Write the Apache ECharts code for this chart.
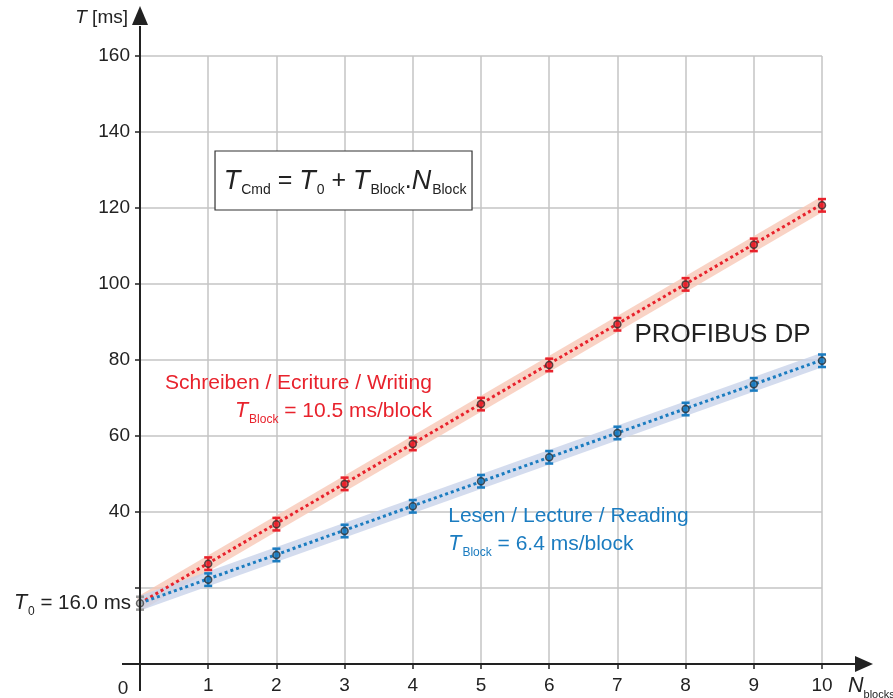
<!DOCTYPE html>
<html>
<head>
<meta charset="utf-8">
<script src="https://cdn.jsdelivr.net/npm/echarts@6/dist/echarts.min.js"></script>
<style>
  html, body { margin: 0; padding: 0; background: #fff; }
  #chart { width: 893px; height: 698px; }
</style>
</head>
<body>
<div id="chart"></div>
<script>
// measured points (N blocks -> T ms)
const blocks = [1, 2, 3, 4, 5, 6, 7, 8, 9, 10];
const writeT = [26.4, 36.8, 47.4, 57.9, 68.4, 78.7, 89.4, 99.9, 110.3, 120.7];
const readT = [22.2, 28.7, 35.0, 41.5, 48.1, 54.4, 60.8, 67.1, 73.6, 79.8];
const errT = 1.65;
const t0 = 16.0;
// fitted lines
const writeFit = [[0, 16], [10, 121]];
const readFit = [[0, 16], [10, 80]];
const yTicks = [40, 60, 80, 100, 120, 140, 160];

const RED = "#e8222c";
const BLUE = "#1b7cc0";
const FONT = "Liberation Sans, Arial, sans-serif";

const chart = echarts.init(document.getElementById("chart"));

function errorBars(color) {
  return function (params, api) {
    const x = api.value(0), y = api.value(1), e = api.value(2);
    const lo = api.coord([x, y - e]);
    const hi = api.coord([x, y + e]);
    const w = 4;
    const st = { stroke: color, lineWidth: 2.5 };
    return {
      type: "group",
      children: [
        { type: "line", shape: { x1: lo[0], y1: lo[1], x2: hi[0], y2: hi[1] }, style: st },
        { type: "line", shape: { x1: lo[0] - w, y1: lo[1], x2: lo[0] + w, y2: lo[1] }, style: st },
        { type: "line", shape: { x1: hi[0] - w, y1: hi[1], x2: hi[0] + w, y2: hi[1] }, style: st }
      ]
    };
  };
}

const writePts = blocks.map((n, i) => [n, writeT[i]]);
const readPts = blocks.map((n, i) => [n, readT[i]]);

const option = {
  animation: false,
  textStyle: { fontFamily: FONT },
  grid: { left: 140, right: 71, top: 56, bottom: 34, containLabel: false },
  xAxis: {
    type: "value",
    min: 0,
    max: 10,
    interval: 1,
    axisLine: { show: false },
    axisTick: { show: true, length: 5, lineStyle: { color: "#222", width: 1.5 } },
    axisLabel: {
      color: "#222",
      fontSize: 19,
      margin: 12,
      formatter: v => (v === 0 ? "" : String(v))
    },
    splitLine: { show: true, lineStyle: { color: "#c4c4c4", width: 1.5 } }
  },
  yAxis: {
    type: "value",
    min: 0,
    max: 160,
    interval: 20,
    axisLine: { show: false },
    axisTick: { show: true, length: 5, lineStyle: { color: "#222", width: 1.5 } },
    axisLabel: {
      color: "#222",
      fontSize: 19,
      margin: 10,
      formatter: v => (yTicks.indexOf(v) >= 0 ? String(v) : "")
    },
    splitLine: { show: true, lineStyle: { color: "#c4c4c4", width: 1.5 } }
  },
  series: [
    {
      type: "line", data: writeFit, symbol: "none", z: 2,
      lineStyle: { color: "#f8c8b6", width: 14, opacity: 0.8 }
    },
    {
      type: "line", data: readFit, symbol: "none", z: 2,
      lineStyle: { color: "#c9d3ea", width: 14, opacity: 0.8 }
    },
    {
      type: "line", data: writeFit, symbol: "none", z: 3,
      lineStyle: { color: RED, width: 3, type: [3, 3] }
    },
    {
      type: "line", data: readFit, symbol: "none", z: 3,
      lineStyle: { color: BLUE, width: 3, type: [3, 3] }
    },
    {
      type: "custom", renderItem: errorBars(RED), z: 4,
      data: writePts.map(p => [p[0], p[1], errT])
    },
    {
      type: "custom", renderItem: errorBars(BLUE), z: 4,
      data: readPts.map(p => [p[0], p[1], errT])
    },
    {
      type: "custom", renderItem: errorBars("#9a9a9a"), z: 4,
      data: [[0, t0, 1.7]]
    },
    {
      type: "scatter", data: writePts, symbolSize: 7, z: 5,
      itemStyle: { color: RED, borderColor: "#333", borderWidth: 1.5 }
    },
    {
      type: "scatter", data: readPts, symbolSize: 7, z: 5,
      itemStyle: { color: BLUE, borderColor: "#333", borderWidth: 1.5 }
    },
    {
      type: "scatter", data: [[0, t0]], symbolSize: 7, z: 5,
      itemStyle: { color: "#bbb", borderColor: "#444", borderWidth: 1.5 }
    }
  ]
};
chart.setOption(option);

// axis lines, arrows and annotations placed from axis coordinates
const px = (x, y) => chart.convertToPixel({ gridIndex: 0 }, [x, y]);
const org = px(0, 0);
const yTop = px(0, 160);
const xEnd = px(10, 0);
const p16 = px(0, t0);
const axisStyle = { stroke: "#222", lineWidth: 2 };

const sub = { fontSize: 12, verticalAlign: "bottom", lineHeight: 28, padding: [0, 0, 0, 1] };
const ital = { fontStyle: "italic", fontSize: 21.5, lineHeight: 28 };
const norm = { fontSize: 21, lineHeight: 28 };

chart.setOption({
  graphic: [
    { type: "line", shape: { x1: org[0], y1: org[1] + 27, x2: org[0], y2: yTop[1] - 30 }, style: axisStyle, z: 10 },
    { type: "polygon", shape: { points: [[org[0], yTop[1] - 50], [org[0] - 8, yTop[1] - 31], [org[0] + 8, yTop[1] - 31]] }, style: { fill: "#222" }, z: 10 },
    { type: "line", shape: { x1: org[0] - 18, y1: org[1], x2: xEnd[0] + 34, y2: org[1] }, style: axisStyle, z: 10 },
    { type: "polygon", shape: { points: [[xEnd[0] + 51, org[1]], [xEnd[0] + 33, org[1] - 8], [xEnd[0] + 33, org[1] + 8]] }, style: { fill: "#222" }, z: 10 },
    {
      type: "text", x: org[0] - 12, y: yTop[1] - 38, z: 10,
      style: { text: "{i|T} [ms]", font: "19px " + FONT, fill: "#222", align: "right", verticalAlign: "middle", rich: { i: { fontStyle: "italic", fontSize: 19 } } }
    },
    {
      type: "text", x: org[0] - 17, y: org[1] + 25, z: 10,
      style: { text: "0", font: "19px " + FONT, fill: "#222", align: "center", verticalAlign: "middle" }
    },
    {
      type: "text", x: xEnd[0] + 26, y: org[1] + 22, z: 10,
      style: { text: "{i|N}{s|blocks}", font: "20px " + FONT, fill: "#222", align: "left", verticalAlign: "middle",
        rich: { i: ital, s: { fontSize: 11, verticalAlign: "bottom", lineHeight: 28 } } }
    },
    {
      type: "text", x: org[0] - 9, y: p16[1], z: 10,
      style: { text: "{i|T}{s|0}{n| = 16.0 ms}", font: "20px " + FONT, fill: "#222", align: "right", verticalAlign: "middle",
        rich: { i: ital, s: sub, n: { fontSize: 20.5, lineHeight: 28 } } }
    },
    {
      type: "rect", x: px(1.1, 0)[0], y: px(0, 135)[1], z: 10,
      shape: { width: 257, height: 59 },
      style: { fill: "#fff", stroke: "#333", lineWidth: 1.2 }
    },
    {
      type: "text", x: px(1.1, 0)[0] + 130, y: px(0, 135)[1] + 30, z: 11,
      style: {
        text: "{i|T}{s|Cmd}{n| = }{i|T}{s|0}{n| + }{i|T}{s|Block}{n|.}{i|N}{s|Block}",
        font: "24px " + FONT, fill: "#222", align: "center", verticalAlign: "middle",
        rich: {
          i: { fontStyle: "italic", fontSize: 27, lineHeight: 32 },
          n: { fontSize: 25, lineHeight: 32 },
          s: { fontSize: 14, verticalAlign: "bottom", lineHeight: 32, padding: [0, 0, 0, 1] }
        }
      }
    },
    {
      type: "text", x: px(7.25, 0)[0], y: px(0, 86.5)[1], z: 10,
      style: { text: "PROFIBUS DP", font: "26px " + FONT, fill: "#222", align: "left", verticalAlign: "middle" }
    },
    {
      type: "text", x: px(4.28, 0)[0], y: px(0, 74)[1], z: 10,
      style: { text: "Schreiben / Ecriture / Writing", font: "21px " + FONT, fill: RED, align: "right", verticalAlign: "middle" }
    },
    {
      type: "text", x: px(4.28, 0)[0], y: px(0, 66.5)[1], z: 10,
      style: { text: "{i|T}{s|Block}{n| = 10.5 ms/block}", font: "21px " + FONT, fill: RED, align: "right", verticalAlign: "middle",
        rich: { i: ital, s: sub, n: norm } }
    },
    {
      type: "text", x: px(4.52, 0)[0], y: px(0, 39)[1], z: 10,
      style: { text: "Lesen / Lecture / Reading", font: "21px " + FONT, fill: BLUE, align: "left", verticalAlign: "middle" }
    },
    {
      type: "text", x: px(4.52, 0)[0], y: px(0, 31.5)[1], z: 10,
      style: { text: "{i|T}{s|Block}{n| = 6.4 ms/block}", font: "21px " + FONT, fill: BLUE, align: "left", verticalAlign: "middle",
        rich: { i: ital, s: sub, n: norm } }
    }
  ]
});
</script>
</body>
</html>
